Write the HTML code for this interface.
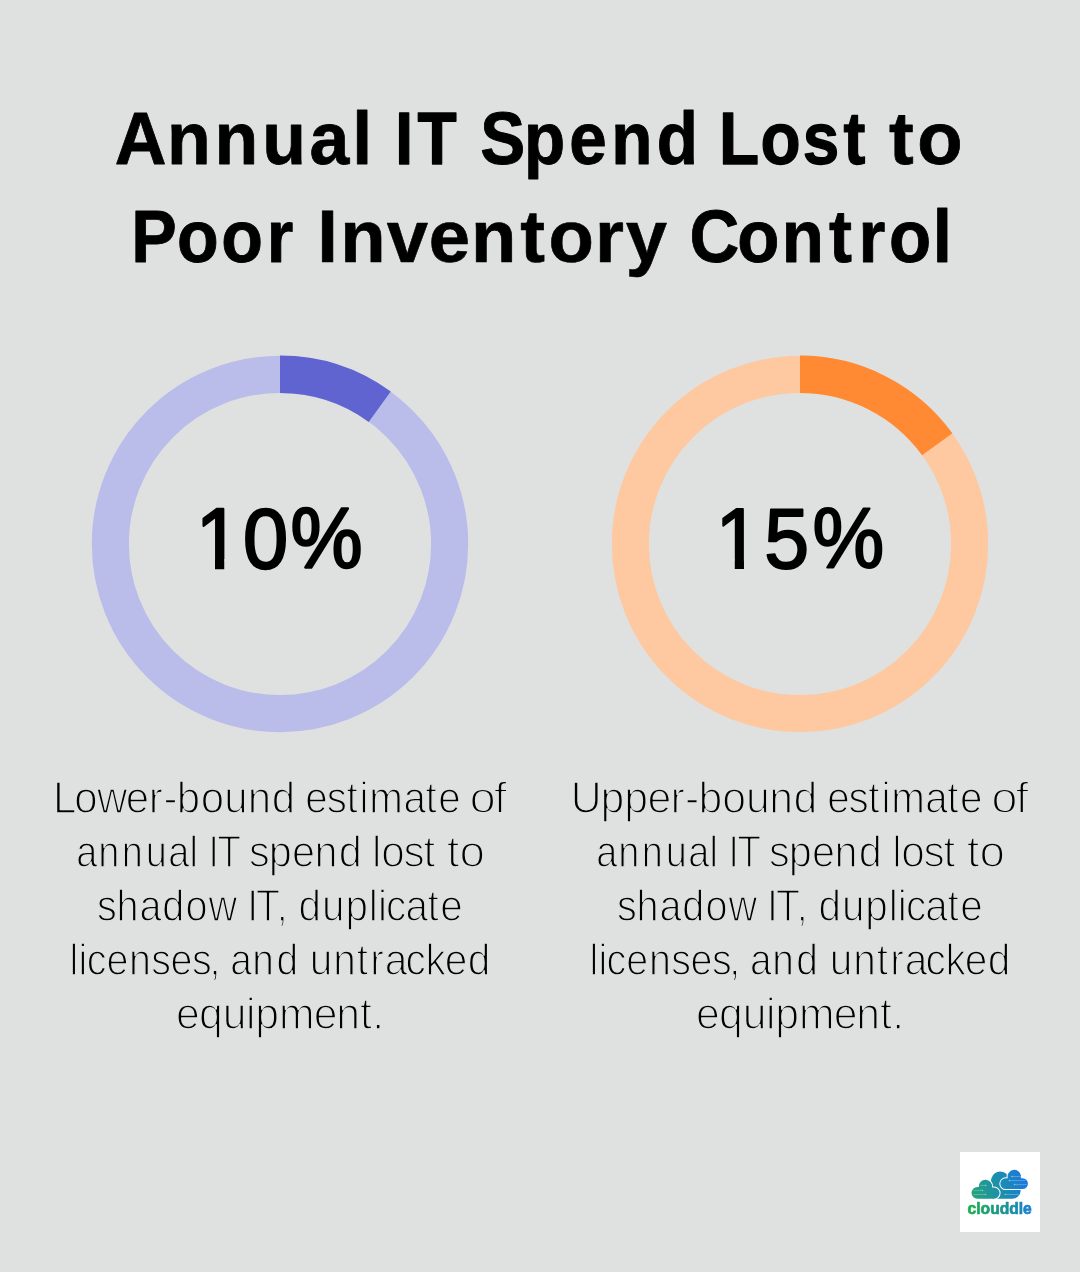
<!DOCTYPE html>
<html lang="en">
<head>
<meta charset="utf-8">
<title>Annual IT Spend Lost to Poor Inventory Control</title>
<style>
html,body{margin:0;padding:0;background:#dfe1e0}
body{width:1080px;height:1272px;overflow:hidden}
svg{display:block}
</style>
</head>
<body>
<svg width="1080" height="1272" viewBox="0 0 1080 1272" role="img" aria-label="Annual IT Spend Lost to Poor Inventory Control" font-family="'Liberation Sans', sans-serif" fill="#000">
<rect width="1080" height="1272" fill="#dfe1e0"/>
<g class="title">
<g class="title-text" font-size="74.6" font-weight="700" stroke="#000" stroke-width="0.7" stroke-linejoin="round">
<text transform="scale(0.9598 1)" x="119.52 174.06 223.42 273.2 322.37 367" y="164" stroke-width="0.76">Annual</text> <text transform="scale(0.8595 1)" x="460 485.67" y="164" stroke-width="1.38">IT</text> <text transform="scale(0.9037 1)" x="531.53 579.75 630 676.28 726.88" y="164" stroke-width="0.96">Spend</text> <text transform="scale(0.8800 1)" x="817.07 864.13 912.16 958.49" y="164" stroke-width="1.28">Lost</text> <text transform="scale(0.9935 1)" x="894.94 923.23" y="164" stroke-width="0.77">to</text>
<text transform="scale(0.9146 1)" x="143.44 193.51 241.94 291.64" y="262" stroke-width="0.87">Poor</text> <text transform="scale(0.9965 1)" x="318.35 341.45 388.11 430.19 472.75 522.17 550.39 597.14 627.93" y="262" stroke-width="0.62">Inventory</text> <text transform="scale(0.9250 1)" x="745.3 796.92 845.19 896.31 928.08 961.19 1008.45" y="262" stroke-width="0.87">Control</text>
</g>
</g>
<g class="stat">
<circle cx="280" cy="544" r="169.65" fill="none" stroke="#babcea" stroke-width="37.1"/><path d="M280 374.35A169.65 169.65 0 0 1 379.72 406.75" fill="none" stroke="#6064d0" stroke-width="37.5"/>
<g class="num-text" font-size="85.6" stroke="#000" stroke-width="2.2" stroke-linejoin="round">
<text transform="scale(0.9468 1)" x="206.65 256.67 306.92" y="568" stroke-width="2.31">10%</text>
</g>
<path fill="#dfe1e0" d="M199.78 559.31H214.99V570.6H199.78zM224.24 559.31H238.81V570.6H224.24z"/>
<g class="body-text" font-size="44" stroke="#dfe1e0" stroke-width="1.45" stroke-linejoin="round">
<text transform="scale(0.9547 1)" x="55.42 77.69 101.55 131.82 155.83 171.25 185.23 210.28 235.02 259.51 284.78" y="813" stroke-width="1.53">Lower-bound</text> <text transform="scale(0.9182 1)" x="332.57 355.83 377.41 391.64 402.24 439.42 463.37 477.33" y="813">estimate</text> <text transform="scale(1.0772 1)" x="435.76 458.46" y="813" stroke-width="1.79">of</text>
<text transform="scale(0.8624 1)" x="88.36 113.89 141.27 168.94 195.08 219.72" y="867" stroke-width="1.4">annual</text> <text transform="scale(0.8874 1)" x="234.63 244.8" y="867" stroke-width="1.74">IT</text> <text transform="scale(0.9410 1)" x="264.58 285.71 310.31 334.32 359.98" y="867" stroke-width="1.52">spend</text> <text transform="scale(0.9611 1)" x="387.18 396.72 419.82 440.64" y="867" stroke-width="1.61">lost</text> <text transform="scale(1.0396 1)" x="429.76 442.05" y="867" stroke-width="1.72">to</text>
<text transform="scale(0.9008 1)" x="107.57 129.42 154.9 180.02 205.9 231.42" y="921" stroke-width="1.4">shadow</text> <text transform="scale(0.8913 1)" x="277.28 287.37 310.59" y="921" stroke-width="1.59">IT,</text> <text transform="scale(0.9200 1)" x="324.47 350.02 375.44 400.91 410.75 419.5 440.67 464.59 478.51" y="921" stroke-width="1.48">duplicate</text>
<text transform="scale(0.8970 1)" x="77.4 87.47 96.6 118.61 143.83 168.75 190.2 214.02 233.43" y="975" stroke-width="1.46">licenses,</text> <text transform="scale(0.8834 1)" x="260.53 285.47 312.88" y="975" stroke-width="1.39">and</text> <text transform="scale(0.9243 1)" x="335.14 360.44 385.95 400.62 416.34 438.8 460.26 481.06 506.09" y="975" stroke-width="1.47">untracked</text>
<text transform="scale(0.9722 1)" x="181.14 204.73 229.08 253.15 262.5 286.9 322.65 345.86 370.42 382.97" y="1029" stroke-width="1.58">equipment.</text>
</g>
</g>
<g class="stat">
<circle cx="800" cy="544" r="169.65" fill="none" stroke="#fec8a0" stroke-width="37.1"/><path d="M800 374.35A169.65 169.65 0 0 1 937.25 444.28" fill="none" stroke="#ff8a33" stroke-width="37.5"/>
<g class="num-text" font-size="85.6" stroke="#000" stroke-width="2.2" stroke-linejoin="round">
<text transform="scale(0.9424 1)" x="759.24 810.98 862.17" y="568" stroke-width="2.06">15%</text>
</g>
<path fill="#dfe1e0" d="M719.64 559.31H734.78V570.6H719.64zM743.98 559.31H758.49V570.6H743.98z"/>
<g class="body-text" font-size="44" stroke="#dfe1e0" stroke-width="1.45" stroke-linejoin="round">
<text transform="scale(0.9736 1)" x="586.34 616.75 641.2 664.97 688.62 703.71 717.35 741.89 766.15 790.16 814.92" y="813" stroke-width="1.59">Upper-bound</text> <text transform="scale(0.9187 1)" x="900.36 923.61 945.18 959.4 969.99 1007.16 1031.1 1045.05" y="813" stroke-width="1.46">estimate</text> <text transform="scale(1.0785 1)" x="919 941.67" y="813" stroke-width="1.81">of</text>
<text transform="scale(0.8624 1)" x="691.3 716.84 744.21 771.88 798.01 822.65" y="867" stroke-width="1.4">annual</text> <text transform="scale(0.8874 1)" x="820.59 830.76" y="867" stroke-width="1.74">IT</text> <text transform="scale(0.9410 1)" x="817.19 838.33 862.93 886.94 912.59" y="867" stroke-width="1.52">spend</text> <text transform="scale(0.9617 1)" x="927.67 937.2 960.28 981.1" y="867" stroke-width="1.62">lost</text> <text transform="scale(1.0396 1)" x="929.95 942.23" y="867" stroke-width="1.72">to</text>
<text transform="scale(0.9008 1)" x="684.82 706.67 732.14 757.27 783.14 808.66" y="921" stroke-width="1.4">shadow</text> <text transform="scale(0.8914 1)" x="860.55 870.64 893.86" y="921" stroke-width="1.59">IT,</text> <text transform="scale(0.9199 1)" x="889.75 915.29 940.71 966.19 976.03 984.78 1005.95 1029.88 1043.79" y="921" stroke-width="1.48">duplicate</text>
<text transform="scale(0.8971 1)" x="657.01 667.08 676.2 698.21 723.43 748.34 769.79 793.61 813.02" y="975" stroke-width="1.46">licenses,</text> <text transform="scale(0.8834 1)" x="849.13 874.07 901.49" y="975" stroke-width="1.39">and</text> <text transform="scale(0.9244 1)" x="897.64 922.94 948.45 963.12 978.84 1001.29 1022.75 1043.55 1068.58" y="975" stroke-width="1.47">untracked</text>
<text transform="scale(0.9722 1)" x="716 739.6 763.94 788.01 797.36 821.76 857.51 880.72 905.28 917.83" y="1029" stroke-width="1.58">equipment.</text>
</g>
</g>
<g class="logo" transform="translate(960 1152)">
<rect width="80" height="80" fill="#fff"/>
<defs>
<linearGradient id="gc" gradientUnits="userSpaceOnUse" x1="11" y1="44" x2="68" y2="24"><stop offset="0" stop-color="#25a478"/><stop offset=".5" stop-color="#1c8fad"/><stop offset="1" stop-color="#1a75e4"/></linearGradient>
<linearGradient id="gt" gradientUnits="userSpaceOnUse" x1="8" y1="0" x2="72" y2="0"><stop offset="0" stop-color="#1bb04a"/><stop offset=".55" stop-color="#1b9690"/><stop offset="1" stop-color="#1c7fd6"/></linearGradient>
</defs>
<g fill="url(#gc)">
<path d="M40.200 19.500a9.600 9.600 0 0 1 9.600 9.600v8.400h10.900v.700a8.500 8.500 0 0 1-8.500 8.500h-18v-10.500a9.600 9.600 0 0 1 6-16.700z"/>
<g stroke="#fff" stroke-width="2" paint-order="stroke">
<path d="M17.350 35a5.850 5.850 0 0 0 0 11.700H34a5.600 5.600 0 0 0 0-11.200H32.100A6.700 6.700 0 1 0 18.800 35z"/>
<path d="M45.650 26.300a5.350 5.350 0 0 0 0 10.700h16.900a5.350 5.350 0 0 0 0-10.700H60.700A6.700 6.700 0 1 0 47.800 26.300z"/>
</g>
</g>
<g stroke="#fff" stroke-width=".5" opacity=".5" fill="#fff">
<path d="M20 33.400h5.700M13.400 38.400h9.100M13.400 42.500h12.300M45.200 42.500h13.600M52 24.500h8.700M49.400 28.550h15.900M54.600 32.600h12"/>
<circle cx="25.700" cy="33.400" r=".5"/><circle cx="22.500" cy="38.400" r=".5"/><circle cx="25.700" cy="42.500" r=".5"/><circle cx="45.200" cy="42.500" r=".5"/><circle cx="52" cy="24.500" r=".5"/><circle cx="49.400" cy="28.550" r=".5"/><circle cx="54.600" cy="32.600" r=".5"/>
</g>
<text x="7.600" y="61.600" font-family="'Liberation Sans', sans-serif" font-weight="700" font-size="16.500" textLength="64.200" lengthAdjust="spacingAndGlyphs" fill="url(#gt)" stroke="url(#gt)" stroke-width=".7" stroke-linejoin="round">clouddle</text>
</g>
</svg>
</body>
</html>
